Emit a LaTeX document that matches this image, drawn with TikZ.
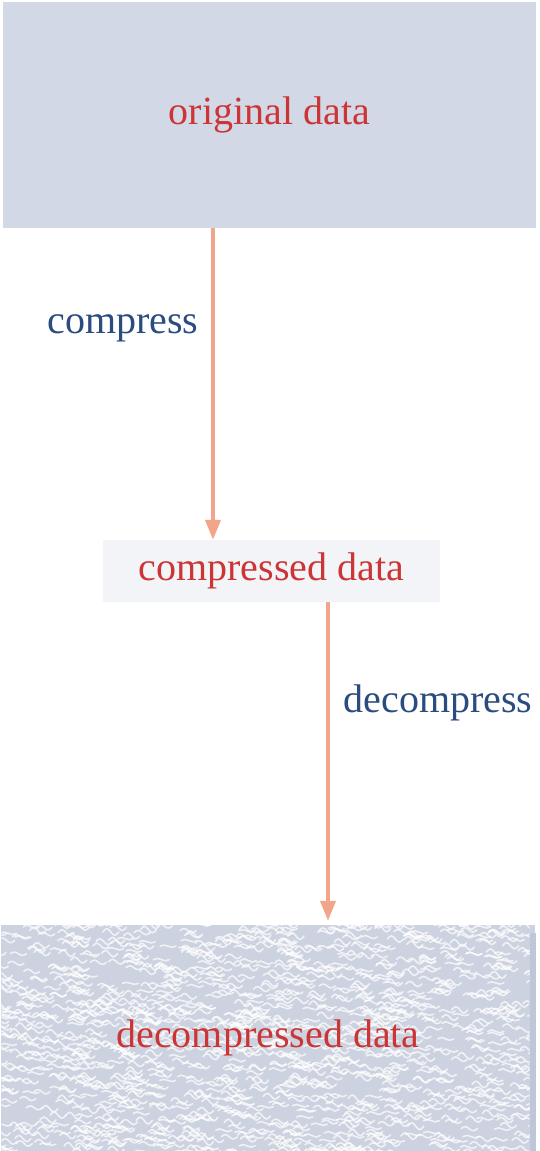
\documentclass[tikz,border=0pt]{standalone}
\usepackage{fontspec}
\setmainfont{Liberation Serif}
\usetikzlibrary{arrows.meta,backgrounds}
\definecolor{boxblue}{HTML}{D3D8E6}
\definecolor{boxlight}{HTML}{F3F4F7}
\definecolor{texbase}{HTML}{CCD2E0}
\definecolor{edgeblue}{HTML}{BFC6D8}
\definecolor{redtext}{HTML}{CC3535}
\definecolor{bluetext}{HTML}{2B4C7E}
\definecolor{arrowcol}{HTML}{F2A58A}
\tikzset{
  boxtext/.style={text=redtext, font=\fontsize{40}{44}\selectfont, inner sep=0pt},
  bigbox/.style={boxtext, minimum width=533pt, minimum height=226pt},
  midbox/.style={boxtext, fill=boxlight, minimum width=337pt, minimum height=62pt},
  lbl/.style={text=bluetext, font=\fontsize{40}{44}\selectfont, inner sep=0pt},
  arr/.style={draw=arrowcol, line width=4pt, -{Triangle[length=20pt,width=15pt]}}
}
\begin{document}
\begin{tikzpicture}[x=1pt,y=-1pt]
\useasboundingbox (0,0) rectangle (539,1151);
\node[bigbox, fill=boxblue] (top) at (269.5,115) {original data};
\node[midbox] (mid) at (271.5,571) {compressed data};
\node[bigbox] (bot) at (268,1038) {decompressed data};
\begin{scope}[on background layer]
  \fill[white] (0,0) rectangle (539,1151);
  \fill[texbase] (bot.north west) rectangle (bot.south east);
  \fill[edgeblue] (bot.north east) ++(-5,8) rectangle ([xshift=1pt]bot.south east);
  \begin{scope}
    \clip (bot.north west) rectangle ([xshift=-5pt]bot.south east);
    \pgfmathsetseed{7}
    \foreach \i in {1,...,1500}{
      \pgfmathsetmacro\xx{rnd*545-10}
      \pgfmathsetmacro\yy{922+rnd*232}
      \pgfmathsetmacro\aa{1+rnd*2.5}
      \draw[white, line width=1.6pt, opacity=0.7, line cap=round]
        (\xx,\yy) sin ++(4,-\aa) cos ++(4,\aa) sin ++(4,\aa) cos ++(4,-\aa);
    }
  \end{scope}
\end{scope}
\coordinate (c1) at (213,0);
\coordinate (c2) at (328,0);
\draw[arr] (top.south -| c1) -- (mid.north -| c1);
\draw[arr, shorten >=4pt] (mid.south -| c2) -- (bot.north -| c2);
\node[lbl] (l1) at (123,328) {compress};
\node[lbl] (l2) at (438,703) {decompress};
\end{tikzpicture}
\end{document}
